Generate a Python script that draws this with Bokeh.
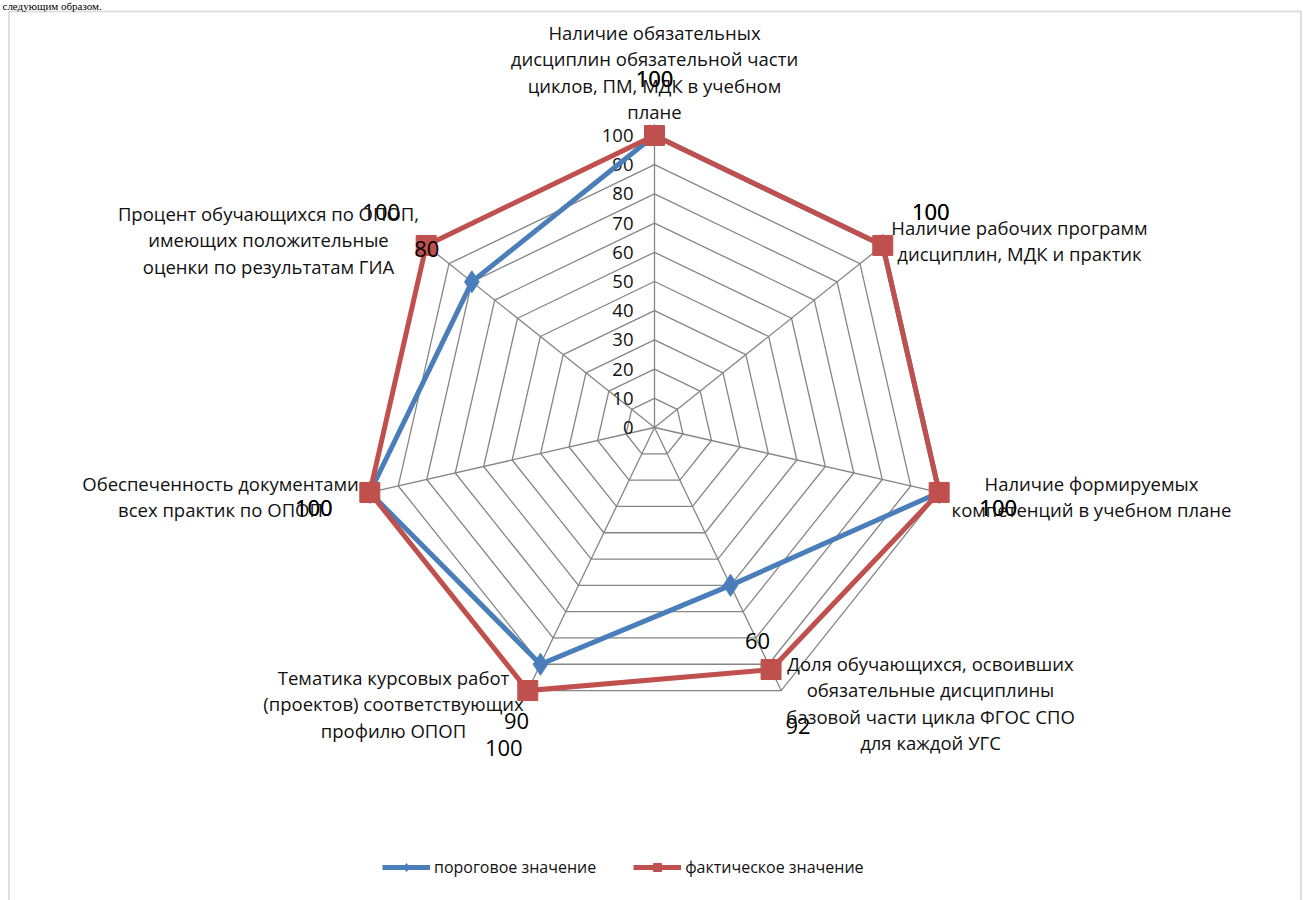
import math
from bokeh.plotting import figure
from bokeh.models import Range1d, BoxAnnotation, Legend, LegendItem
from bokeh.core.properties import value
from bokeh.embed import file_html
from bokeh.resources import INLINE

# ---------------- data ----------------
categories = [
    "Наличие обязательных\nдисциплин обязательной части\nциклов, ПМ, МДК в учебном\nплане",
    "Наличие рабочих программ\nдисциплин, МДК и практик",
    "Наличие формируемых\nкомпетенций в учебном плане",
    "Доля обучающихся, освоивших\nобязательные дисциплины\nбазовой части цикла ФГОС СПО\nдля каждой УГС",
    "Тематика курсовых работ\n(проектов) соответствующих\nпрофилю ОПОП",
    "Обеспеченность документами\nвсех практик по ОПОП",
    "Процент обучающихся по ОПОП,\nимеющих положительные\nоценки по результатам ГИА",
]
threshold = [100, 100, 100, 60, 90, 100, 80]
actual = [100, 100, 100, 92, 100, 100, 100]
ticks = [0, 10, 20, 30, 40, 50, 60, 70, 80, 90, 100]
series_names = ["пороговое значение", "фактическое значение"]
page_text = "следующим образом."

# ---------------- layout / style ----------------
CX, CY = 654, 427          # centre (screen px)
R = 292                    # radius for value 100
VMAX = 100
FONT_NAME = "Open Sans"
FONT = value(FONT_NAME)
GRID = "#868686"
BLUE = "#4A7EBB"
RED = "#C0504D"

label_anchor = [(654, 32), (1019, 227), (1091, 483), (930, 663), (393, 677), (220, 483), (268, 213)]
LINE_H = 26.3
dl_off = [(0, -57), (48, -33), (59, 16), (27, 56), (-24, 57), (-56, 16), (-45, -33)]

n = len(categories)
angles = [2 * math.pi * i / n for i in range(n)]


def pt(v, a):
    r = R * v / VMAX
    return CX + r * math.sin(a), CY - r * math.cos(a)


p = figure(width=1303, height=900, output_backend="svg", toolbar_location=None,
           x_range=Range1d(0, 1303), y_range=Range1d(900, 0),
           x_axis_location=None, y_axis_location=None, min_border=0)
p.grid.visible = False
p.outline_line_color = None
p.background_fill_color = "white"

# document text above the chart (shrunk to fit above the frame)
p.text([2], [5], text=[page_text], text_align="left", text_baseline="middle",
       text_font=value("Liberation Serif"), text_font_size="11px", text_color="#000000")

p.add_layout(BoxAnnotation(left=8.5, right=1300.5, top=11, bottom=912, fill_color="white",
                           fill_alpha=1.0, line_color="#939393", line_width=2, level="underlay"))

# grid rings
for t in ticks[1:]:
    xs = [pt(t, a)[0] for a in angles] + [pt(t, angles[0])[0]]
    ys = [pt(t, a)[1] for a in angles] + [pt(t, angles[0])[1]]
    p.line(xs, ys, line_color=GRID, line_width=1.3)
# spokes
for a in angles:
    x1, y1 = pt(VMAX, a)
    p.line([CX, x1], [CY, y1], line_color=GRID, line_width=1.3)

# tick labels
tx = [CX - 21 for t in ticks]
ty = [pt(t, 0)[1] for t in ticks]
p.text(tx, ty, text=[str(t) for t in ticks], text_align="right", text_baseline="middle",
       text_font=FONT, text_font_size="18.5px", text_color="#111111")

# series
renderers = []
for vals, col, marker, msize in [(threshold, BLUE, "diamond", 22), (actual, RED, "square", 20)]:
    xs = [pt(v, a)[0] for v, a in zip(vals, angles)]
    ys = [pt(v, a)[1] for v, a in zip(vals, angles)]
    ln = p.line(xs + xs[:1], ys + ys[:1], line_color=col, line_width=5, line_join="miter")
    sc = p.scatter(xs, ys, marker=marker, size=msize, fill_color=col, line_color=col)
    renderers.append((ln, sc))

# data labels
for vals in [threshold, actual]:
    lx, ly, lt = [], [], []
    for v, a, (dx, dy) in zip(vals, angles, dl_off):
        x, y = pt(v, a)
        lx.append(x + dx)
        ly.append(y + dy)
        lt.append(str(v))
    p.text(lx, ly, text=lt, text_align="center", text_baseline="middle",
           text_font=FONT, text_font_size="22px", text_color="#000000")

# category labels
cx_, cy_, ct_ = [], [], []
for lab, (ax, ay) in zip(categories, label_anchor):
    for k, line in enumerate(lab.split("\n")):
        cx_.append(ax)
        cy_.append(ay + k * LINE_H)
        ct_.append(line)
p.text(cx_, cy_, text=ct_, text_align="center", text_baseline="middle",
       text_font=FONT, text_font_size="18.5px", text_color="#111111")

legend = Legend(items=[LegendItem(label=series_names[0], renderers=list(renderers[0])),
                       LegendItem(label=series_names[1], renderers=list(renderers[1]))],
                orientation="horizontal", location=(382, 22), glyph_width=48, glyph_height=20,
                label_standoff=4, spacing=37, padding=0, margin=0,
                border_line_color=None, background_fill_alpha=0,
                label_text_font=FONT_NAME, label_text_font_size="16px", label_text_color="#111111")
p.add_layout(legend)

open("out.html", "w").write(file_html(p, INLINE))
